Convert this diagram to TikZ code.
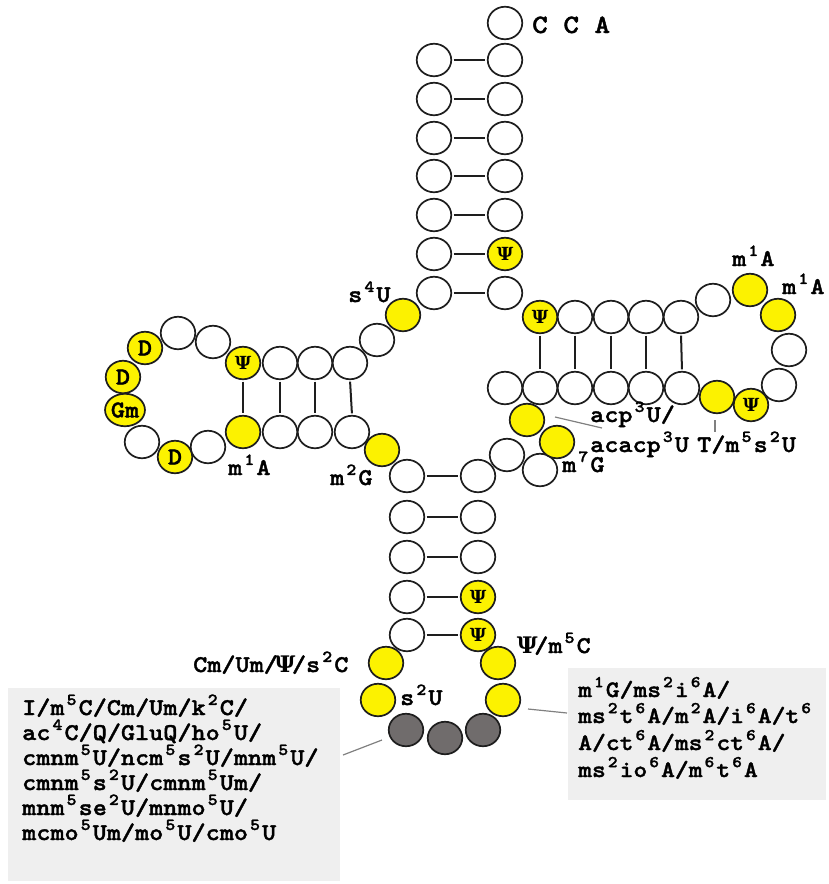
\documentclass[tikz,border=0pt]{standalone}
\usepackage{fontspec}
\newfontfamily\cour{lmmonolt10-bold.otf}[FakeStretch=1.12, FakeBold=1.6]
\newfontfamily\psifont{DejaVu Serif}[Scale=0.95]
\usetikzlibrary{shapes.geometric}
\definecolor{nucyellow}{RGB}{252,242,0}
\definecolor{nucgrey}{RGB}{112,108,108}
\definecolor{boxfill}{RGB}{239,239,239}
\definecolor{leadgrey}{RGB}{128,128,128}
\definecolor{ink}{RGB}{30,30,30}
% superscript set in a full monospace cell
\newcommand\sps[1]{\makebox[\fontcharwd\font`\0][c]{\raisebox{0.42em}{\scalebox{0.7}{#1}}}}
% psi in one monospace cell
\newcommand\Psy{\makebox[\fontcharwd\font`\0][c]{\psifont\bfseries Ψ}}

\begin{document}
\begin{tikzpicture}[x=1pt,y=-1pt,
  nuc/.style={ellipse, draw=ink, line width=1.7pt, minimum width=34.5pt,
    minimum height=32.5pt, inner sep=0pt, fill=white,
    font=\cour\fontsize{24}{24}\selectfont},
  mod/.style={nuc, fill=nucyellow},
  psi/.style={mod, font=\cour\fontsize{19}{19}\selectfont},
  anti/.style={nuc, fill=nucgrey},
  bond/.style={line width=2pt, ink, shorten <=1.5pt, shorten >=1.5pt},
  lbl/.style={anchor=base west, inner sep=0pt,
    font=\cour\fontsize{24}{24}\selectfont},
  boxline/.style={lbl},
  leader/.style={line width=1.2pt, leadgrey},
  infobox/.style={fill=boxfill, draw=none, anchor=north west, inner sep=0pt},
  ]
\useasboundingbox (0,0) rectangle (828,884);

% ---- information boxes
\node[infobox, minimum width=332pt, minimum height=193pt] (lbox) at (8,688) {};
\node[infobox, minimum width=258pt, minimum height=132pt] (rbox) at (568,668) {};

% ---- acceptor stem
\node[nuc] (b0) at (505,23) {};
\node[nuc] (a1) at (434,60) {};  \node[nuc] (b1) at (505,60) {};
\node[nuc] (a2) at (434,99) {};  \node[nuc] (b2) at (505,99) {};
\node[nuc] (a3) at (434,138) {}; \node[nuc] (b3) at (505,138) {};
\node[nuc] (a4) at (434,176) {}; \node[nuc] (b4) at (505,176) {};
\node[nuc] (a5) at (434,215) {}; \node[nuc] (b5) at (505,215) {};
\node[nuc] (a6) at (434,254) {}; \node[psi] (b6) at (505,254) {\Psy};
\node[nuc] (a7) at (434,293) {}; \node[nuc] (b7) at (505,293) {};
\foreach \i in {1,...,7} \draw[bond] (a\i.east) -- (b\i.west);

% ---- linker to the D arm
\node[mod] (s4u) at (403,315) {};
\node[nuc] (n9) at (377,340) {};

% ---- D arm
\node[psi] (d1) at (243,363) {\Psy};
\node[nuc] (d2) at (280,363) {};
\node[nuc] (d3) at (315,363) {};
\node[nuc] (d4) at (350,363) {};
\node[mod] (e1) at (243,432) {};
\node[nuc] (e2) at (280,432) {};
\node[nuc] (e3) at (315,432) {};
\node[nuc] (e4) at (352,432) {};
\foreach \i in {1,...,4} \draw[bond] (d\i.south) -- (e\i.north);
\node[nuc] (l1) at (213,342) {};
\node[nuc] (l2) at (178,333) {};
\node[mod] (l3) at (145,348) {D};
\node[mod] (l4) at (123,377) {D};
\node[mod] (l5) at (125,410) {Gm};
\node[nuc] (l6) at (142,442) {};
\node[mod] (l7) at (175,457) {D};
\node[nuc] (l8) at (208,447) {};
\node[mod] (m2g) at (382,450) {};

% ---- anticodon arm
\node[nuc] (c1) at (407,476) {}; \node[nuc] (k1) at (478,476) {};
\node[nuc] (c2) at (407,517) {}; \node[nuc] (k2) at (478,517) {};
\node[nuc] (c3) at (407,557) {}; \node[nuc] (k3) at (478,557) {};
\node[nuc] (c4) at (407,597) {}; \node[psi] (k4) at (478,597) {\Psy};
\node[nuc] (c5) at (407,635) {}; \node[psi] (k5) at (478,635) {\Psy};
\foreach \i in {1,...,5} \draw[bond] (c\i.east) -- (k\i.west);
\node[mod] (q1) at (386,663) {};
\node[mod] (q2) at (378,700) {};
\node[anti] (g1) at (406,730) {};
\node[anti] (g2) at (445,738) {};
\node[anti] (g3) at (483,730) {};
\node[mod] (q3) at (503,700) {};
\node[mod] (q4) at (498,663) {};

% ---- variable loop
\node[nuc] (v1) at (507,455) {};
\node[nuc] (v2) at (540,470) {};
\node[mod] (v3) at (557,442) {};
\node[mod] (v4) at (527,420) {};

% ---- T arm
\node[nuc] (t0) at (505,388) {};
\node[nuc] (t1) at (540,388) {}; \node[psi] (u1) at (540,317) {\Psy};
\node[nuc] (t2) at (575,388) {}; \node[nuc] (u2) at (575,317) {};
\node[nuc] (t3) at (611,388) {}; \node[nuc] (u3) at (611,317) {};
\node[nuc] (t4) at (646,388) {}; \node[nuc] (u4) at (646,317) {};
\node[nuc] (t5) at (682,388) {}; \node[nuc] (u5) at (681,317) {};
\foreach \i in {1,...,5} \draw[bond] (u\i.south) -- (t\i.north);
\node[nuc] (w7) at (713,300) {};
\node[nuc] (w4) at (789,350) {};
\node[nuc] (w3) at (779,385) {};
\node[mod] (w1) at (717,397) {};
\node[psi] (w2) at (751,405) {\Psy};
\node[mod] (w5) at (778,315) {};
\node[mod] (w6) at (750,290) {};

% ---- labels
\node[lbl, font=\cour\fontsize{26.5}{26.5}\selectfont] (cca) at (532,33) {C C A};
\node[lbl] (ls4u) at (348,302) {s\sps{4}U};
\node[lbl] (lm1a) at (228,475) {m\sps{1}A};
\node[lbl] (lm2g) at (330,485) {m\sps{2}G};
\node[lbl] (lm7g) at (562,472) {m\sps{7}G};
\node[lbl] (lacp) at (590,422) {acp\sps{3}U/};
\node[lbl] (lacacp) at (590,452) {acacp\sps{3}U};
\node[lbl] (lt) at (697,452) {T/m\sps{5}s\sps{2}U};
\node[lbl] (lm1b) at (732,266) {m\sps{1}A};
\node[lbl] (lm1c) at (782,294) {m\sps{1}A};
\node[lbl] (lcm) at (193,672) {Cm/Um/\Psy/s\sps{2}C};
\node[lbl] (ls2u) at (400,705) {s\sps{2}U};
\node[lbl] (lpsi) at (520,653) {\Psy/m\sps{5}C};

% ---- leader lines
\coordinate (acpA) at (555,417); \coordinate (acpB) at (602,428);
\draw[leader] (acpA) -- (acpB);
\coordinate (tA) at (715,420); \coordinate (tB) at (715,432);
\draw[leader] (tA) -- (tB);
\coordinate (wobA) at (343,755); \coordinate (wobB) at (382,740);
\draw[leader] (wobA) -- (wobB);
\coordinate (r37A) at (528,709); \coordinate (r37B) at (567,713);
\draw[leader] (r37A) -- (r37B);

% ---- box texts
\node[boxline] (lt1) at (22,715) {I/m\sps{5}C/Cm/Um/k\sps{2}C/};
\node[boxline] (lt2) at (22,740) {ac\sps{4}C/Q/GluQ/ho\sps{5}U/};
\node[boxline] (lt3) at (22,765) {cmnm\sps{5}U/ncm\sps{5}s\sps{2}U/mnm\sps{5}U/};
\node[boxline] (lt4) at (22,790) {cmnm\sps{5}s\sps{2}U/cmnm\sps{5}Um/};
\node[boxline] (lt5) at (22,815) {mnm\sps{5}se\sps{2}U/mnmo\sps{5}U/};
\node[boxline] (lt6) at (22,840) {mcmo\sps{5}Um/mo\sps{5}U/cmo\sps{5}U};

\node[boxline, font=\cour\fontsize{23.5}{23.5}\selectfont] (rt1) at (578,697) {m\sps{1}G/ms\sps{2}i\sps{6}A/};
\node[boxline, font=\cour\fontsize{23.5}{23.5}\selectfont] (rt2) at (578,723) {ms\sps{2}t\sps{6}A/m\sps{2}A/i\sps{6}A/t\sps{6}};
\node[boxline, font=\cour\fontsize{23.5}{23.5}\selectfont] (rt3) at (578,750) {A/ct\sps{6}A/ms\sps{2}ct\sps{6}A/};
\node[boxline, font=\cour\fontsize{23.5}{23.5}\selectfont] (rt4) at (578,777) {ms\sps{2}io\sps{6}A/m\sps{6}t\sps{6}A};
\end{tikzpicture}
\end{document}
